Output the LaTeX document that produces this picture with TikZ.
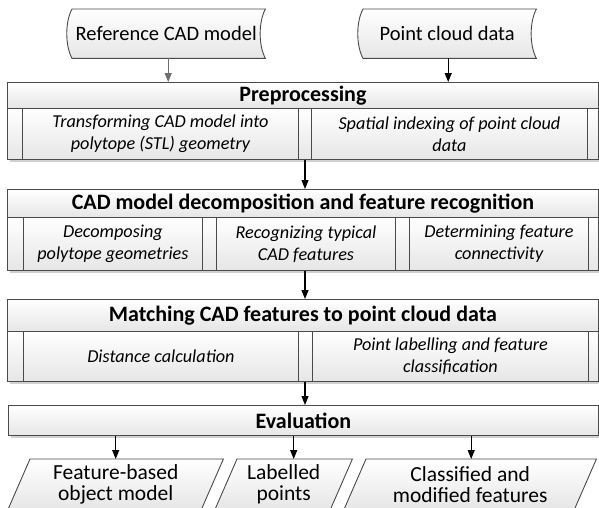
\documentclass[tikz,border=0pt]{standalone}
\usepackage{fontspec}
\setmainfont{Carlito}
\usetikzlibrary{arrows.meta,backgrounds}

\definecolor{edge}{HTML}{4A4A4A}
\definecolor{shade}{HTML}{E6E6E6}
\definecolor{shadowc}{HTML}{D0D0D0}

\tikzset{
  boxbase/.style={draw=edge, line width=0.9pt, rectangle, inner sep=0pt,
    anchor=north west, top color=white, bottom color=shade},
  headbox/.style={boxbase, font=\bfseries\fontsize{22}{26}\selectfont},
  cellbox/.style={boxbase, align=center, font=\itshape\fontsize{18.2}{22}\selectfont},
  stripbox/.style={boxbase},
  databox/.style={rectangle, inner sep=0pt, align=center, anchor=north west,
    font=\fontsize{21.5}{21}\selectfont},
  shapeline/.style={draw=edge, line width=0.9pt, top color=white, bottom color=shade},
  flow/.style={draw=black, line width=1.1pt, -{Triangle[length=9pt,width=7pt]}},
  shadowbox/.style={fill=shadowc},
}

\begin{document}
\begin{tikzpicture}[x=1pt,y=-1pt]
\useasboundingbox (0,0) rectangle (599,507);
\clip (0,0) rectangle (599,507);

% drop shadows of the process blocks
\fill[shadowbox] (10,85) rectangle (601,162);
\fill[shadowbox] (10,192) rectangle (601,273);
\fill[shadowbox] (10,302) rectangle (601,384);
\fill[shadowbox] (11,408) rectangle (601,438);

% ---- inputs (stored data shapes)
\node[databox, minimum width=198, minimum height=49, font=\fontsize{20.5}{21}\selectfont] (ref) at (67,9) {Reference CAD model};
\node[databox, minimum width=178, minimum height=49, font=\fontsize{20.5}{21}\selectfont] (pcd) at (358,9) {Point cloud data};
\begin{pgfonlayer}{background}
\foreach \n in {ref,pcd}{
  \path[shapeline] ([xshift=5]\n.north west) -- (\n.north east)
    .. controls ([xshift=-7,yshift=-13]\n.north east) and ([xshift=-7,yshift=13]\n.south east) .. (\n.south east)
    -- ([xshift=5]\n.south west)
    .. controls ([xshift=-2,yshift=13]\n.south west) and ([xshift=-2,yshift=-13]\n.north west) .. ([xshift=5]\n.north west)
    -- cycle;
}
\end{pgfonlayer}

% ---- preprocessing
\node[headbox, minimum width=591, minimum height=26] (preH) at (7,82) {Preprocessing};
\node[stripbox, minimum width=15, minimum height=51] (preS1) at (7,108) {};
\node[cellbox, minimum width=276, minimum height=51] (preA) at (22,108) {Transforming CAD model into\\polytope (STL) geometry};
\node[stripbox, minimum width=13, minimum height=51] (preS2) at (298,108) {};
\node[cellbox, minimum width=276, minimum height=51] (preB) at (311,108) {Spatial indexing of point cloud\\data};
\node[stripbox, minimum width=11, minimum height=51] (preS3) at (587,108) {};

% ---- decomposition and recognition
\node[headbox, minimum width=591, minimum height=28] (cadH) at (7,189) {CAD model decomposition and feature recognition};
\node[stripbox, minimum width=16, minimum height=53] (cadS1) at (7,217) {};
\node[cellbox, minimum width=179, minimum height=53] (cadA) at (23,217) {Decomposing\\polytope geometries};
\node[stripbox, minimum width=14, minimum height=53] (cadS2) at (202,217) {};
\node[cellbox, minimum width=179, minimum height=53] (cadB) at (216,217) {Recognizing typical\\CAD features};
\node[stripbox, minimum width=14, minimum height=53] (cadS3) at (395,217) {};
\node[cellbox, minimum width=179, minimum height=53] (cadC) at (409,217) {Determining feature\\connectivity};
\node[stripbox, minimum width=10, minimum height=53] (cadS4) at (588,217) {};

% ---- matching
\node[headbox, minimum width=591, minimum height=32] (matH) at (7,299) {Matching CAD features to point cloud data};
\node[stripbox, minimum width=16, minimum height=50] (matS1) at (7,331) {};
\node[cellbox, minimum width=275, minimum height=50] (matA) at (23,331) {Distance calculation};
\node[stripbox, minimum width=14, minimum height=50] (matS2) at (298,331) {};
\node[cellbox, minimum width=276, minimum height=50] (matB) at (312,331) {Point labelling and feature\\classification};
\node[stripbox, minimum width=10, minimum height=50] (matS3) at (588,331) {};

% ---- evaluation
\node[headbox, minimum width=590, minimum height=30] (eval) at (8,405) {Evaluation};

% ---- outputs (parallelograms)
\node[databox, minimum width=193, minimum height=50] (out1) at (19,459) {Feature-based\\object model};
\node[databox, minimum width=115, minimum height=50] (out2) at (226,459) {Labelled\\points};
\node[databox, minimum width=230, minimum height=50] (out3) at (355,459) {Classified and\\modified features};
\begin{pgfonlayer}{background}
\foreach \n in {out1,out2,out3}{
  \path[shapeline] ([xshift=11]\n.north west) -- ([xshift=11]\n.north east)
    -- ([xshift=-11]\n.south east) -- ([xshift=-11]\n.south west) -- cycle;
}
\end{pgfonlayer}

% ---- connectors
\draw[flow, draw=edge!80] ([xshift=2]ref.south) -- ([xshift=2]ref.south |- preH.north);
\draw[flow] ([xshift=1]pcd.south) -- ([xshift=1]pcd.south |- preH.north);
\draw[flow] (preS2.south -| 305,0) -- (cadH.north -| 305,0);
\draw[flow] (cadB.south -| 305,0) -- (matH.north -| 305,0);
\draw[flow] (matS2.south -| 305,0) -- (eval.north -| 305,0);
\draw[flow] (eval.south -| out1.north) -- (out1.north);
\draw[flow] ([xshift=10]out2.north |- eval.south) -- ([xshift=10]out2.north);
\draw[flow] ([xshift=1]out3.north |- eval.south) -- ([xshift=1]out3.north);
\end{tikzpicture}
\end{document}
